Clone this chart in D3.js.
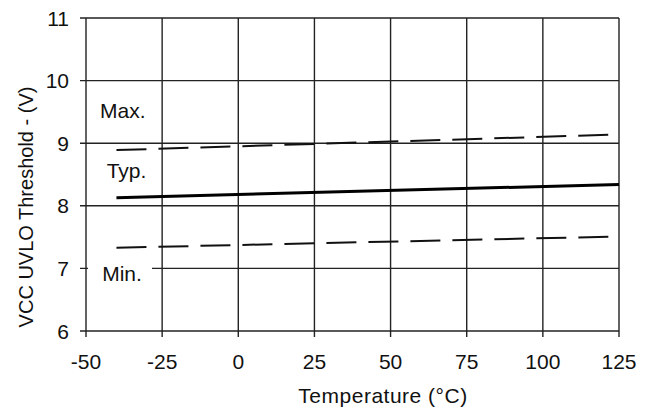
<!DOCTYPE html>
<html><head><meta charset="utf-8">
<script src="https://cdn.jsdelivr.net/npm/d3@7"></script>
<style>body{margin:0;background:#fff}svg{display:block}text{font-family:"Liberation Sans",Arial,sans-serif;fill:#111}</style>
</head><body>
<svg id="c" width="650" height="411"></svg>
<script>
const temperature = [-40, 125];
const typValues = [8.13, 8.34];
const maxValues = [8.89, 9.14];
const minValues = [7.33, 7.51];
const xTicks = [-50, -25, 0, 25, 50, 75, 100, 125];
const yTicks = [6, 7, 8, 9, 10, 11];
const labels = [{t:"Max.", x:-45.4, y:9.40}, {t:"Typ.", x:-43.2, y:8.44}, {t:"Min.", x:-44.7, y:6.80}];

const svg = d3.select("#c");
const x = d3.scaleLinear().domain([-50,125]).range([86,619]);
const y = d3.scaleLinear().domain([6,11]).range([331,18]);
const fs = 21;

// grid
const g = svg.append("g").attr("stroke","#222").attr("stroke-width",1.4);
xTicks.forEach(t=>g.append("line").attr("x1",x(t)).attr("x2",x(t)).attr("y1",y(11)).attr("y2",y(6)+6));
yTicks.forEach(t=>g.append("line").attr("x1",x(-50)-6).attr("x2",x(125)).attr("y1",y(t)).attr("y2",y(t)));

// tick labels
svg.append("g").selectAll("text").data(yTicks).join("text")
  .attr("x",69).attr("y",d=>y(d)).attr("dy","0.36em").attr("text-anchor","end")
  .attr("font-size",fs).text(d=>d);
svg.append("g").selectAll("text").data(xTicks).join("text")
  .attr("x",d=>x(d)).attr("y",369).attr("text-anchor","middle")
  .attr("font-size",fs).text(d=>d);

// series labels with white backing
labels.forEach(l=>{
  if(l.t==="Min."){
    svg.append("rect").attr("x",x(-50)+2).attr("y",y(l.y)-22).attr("width",64).attr("height",28).attr("fill","#fff");
  }
  svg.append("text").attr("x",x(l.x)).attr("y",y(l.y)).attr("font-size",fs).text(l.t);
});

// lines
const line = d3.line().x((d,i)=>x(temperature[i])).y(d=>y(d));
svg.append("path").datum(maxValues).attr("d",line).attr("fill","none").attr("stroke","#111").attr("stroke-width",2).attr("stroke-dasharray","30,12");
svg.append("path").datum(minValues).attr("d",line).attr("fill","none").attr("stroke","#111").attr("stroke-width",2).attr("stroke-dasharray","30,12");
svg.append("path").datum(typValues).attr("d",line).attr("fill","none").attr("stroke","#000").attr("stroke-width",3);

// axis titles
svg.append("text").attr("x",383).attr("y",403).attr("text-anchor","middle").attr("font-size",fs).attr("letter-spacing","0.5").text("Temperature  (°C)");
svg.append("text").attr("transform","translate(33,207) rotate(-90)").attr("text-anchor","middle").attr("font-size",fs-1).text("VCC UVLO Threshold - (V)");
</script>
</body></html>
